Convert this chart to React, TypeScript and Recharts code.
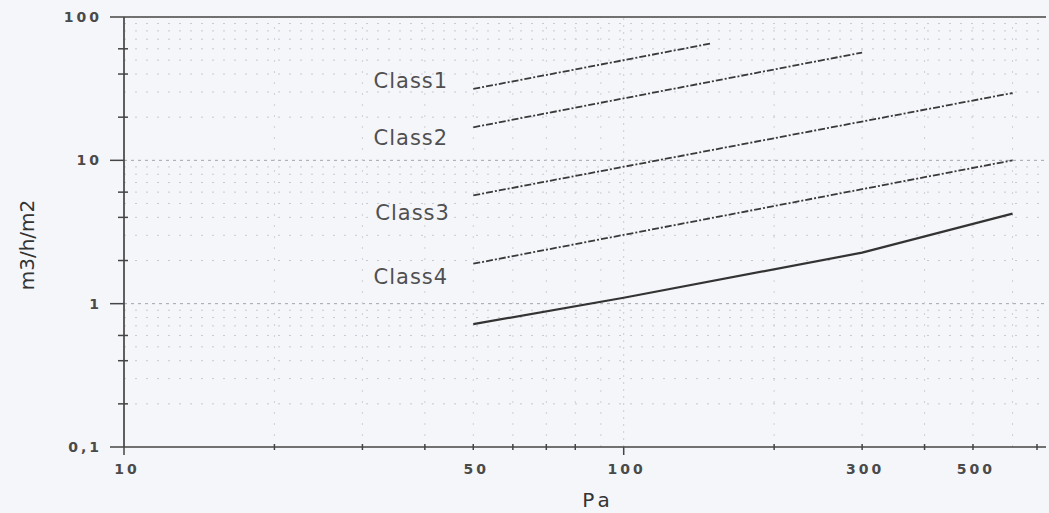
import React from "react"
import { Label, Line, LineChart, ReferenceDot, ReferenceLine, XAxis, YAxis } from "recharts"

// air permeability classes (m3/h/m2 against Pa)
const class1Pa = [50, 150]
const class1Flow = [31.5, 65.5]
const class2Pa = [50, 300]
const class2Flow = [17, 56.5]
const class3Pa = [50, 600]
const class3Flow = [5.7, 29.5]
const class4Pa = [50, 600]
const class4Flow = [1.9, 10]
const measuredPa = [50, 100, 300, 600]
const measuredFlow = [0.72, 1.1, 2.27, 4.25]

const classNames = ["Class1", "Class2", "Class3", "Class4"]
const classLabelPa = [37.5, 37.5, 37.8, 37.5]
const classLabelFlow = [36, 14.5, 4.3, 1.55]

const xTicks = [10, 20, 30, 40, 50, 60, 70, 80, 90, 100, 200, 300, 400, 500, 600, 700]
const xLabels = [10, 50, 100, 300, 500]
const xMajor = [10, 100]
const yTicks = [
  0.1, 0.2, 0.3, 0.4, 0.5, 0.6, 0.7, 0.8, 0.9,
  1, 2, 3, 4, 5, 6, 7, 8, 9,
  10, 20, 30, 40, 50, 60, 70, 80, 90, 100,
]
const yMajor = [0.1, 1, 10, 100]
const yLabelText: Record<string, string> = { "0.1": "0,1", "1": "1", "10": "10", "100": "100" }

const toRows = (pa: number[], flow: number[]) => pa.map((p, i) => ({ pa: p, flow: flow[i] }))

const font = "'DejaVu Sans', sans-serif"
const axisColor = "#454545"

function YTick(props: any) {
  const { x, y, payload } = props
  const v = payload.value
  const major = yMajor.includes(v)
  return (
    <g>
      <line
        x1={major ? x - 14 : x - 6}
        x2={major ? x : x + 4}
        y1={y}
        y2={y}
        stroke={axisColor}
        strokeWidth={1.5}
      />
      {major && (
        <text
          x={x - 22}
          y={y}
          dy={5}
          textAnchor="end"
          fontFamily={font}
          fontSize={14}
          fontWeight="bold"
          letterSpacing={3}
          fill="#4a4a4a"
        >
          {yLabelText[String(v)]}
        </text>
      )}
    </g>
  )
}

function XTick(props: any) {
  const { x, y, payload } = props
  const v = payload.value
  const major = xMajor.includes(v)
  return (
    <g>
      <line
        x1={x}
        x2={x}
        y1={major ? y : y - 3}
        y2={major ? y + 8 : y + 3}
        stroke={axisColor}
        strokeWidth={1.5}
      />
      {xLabels.includes(v) && (
        <text
          x={x + 3}
          y={y + 27}
          textAnchor="middle"
          fontFamily={font}
          fontSize={14}
          fontWeight="bold"
          letterSpacing={3}
          fill="#4a4a4a"
        >
          {v}
        </text>
      )}
    </g>
  )
}

export default function App() {
  const dashed = "7 2 2 2"
  return (
    <div style={{ position: "absolute", left: 0, top: 0, width: 1049, height: 513, background: "#f5f6fa" }}>
      <LineChart width={1049} height={513} margin={{ top: 17, right: 3, bottom: 26, left: 0 }}>
        <XAxis
          dataKey="pa"
          type="number"
          scale="log"
          domain={[10, 700]}
          allowDataOverflow
          ticks={xTicks}
          tick={<XTick />}
          tickLine={false}
          tickSize={0}
          tickMargin={0}
          height={40}
          axisLine={{ stroke: axisColor, strokeWidth: 1.7 }}
        >
          <Label
            content={(p: any) => (
              <text
                x={p.viewBox.x + 474}
                y={507}
                textAnchor="middle"
                fontFamily={font}
                fontSize={20}
                letterSpacing={4}
                fill="#333"
              >
                Pa
              </text>
            )}
          />
        </XAxis>
        <YAxis
          type="number"
          scale="log"
          domain={[0.1, 100]}
          allowDataOverflow
          ticks={yTicks}
          tick={<YTick />}
          tickLine={false}
          tickSize={0}
          tickMargin={0}
          width={124}
          axisLine={{ stroke: axisColor, strokeWidth: 1.7 }}
        >
          <Label
            content={() => (
              <text
                x={34}
                y={245}
                transform="rotate(-90 34 245)"
                textAnchor="middle"
                fontFamily={font}
                fontSize={20}
                fill="#333"
              >
                m3/h/m2
              </text>
            )}
          />
        </YAxis>

        {yTicks
          .filter((v) => !yMajor.includes(v))
          .map((v) => (
            <ReferenceLine key={"ym" + v} y={v} stroke="#c6c9d3" strokeDasharray="2 9" />
          ))}
        {[1, 10].map((v) => (
          <ReferenceLine key={"yM" + v} y={v} stroke="#a0a4ae" strokeDasharray="3 4" />
        ))}
        {xTicks
          .filter((v) => v !== 10 && v !== 100 && v !== 700)
          .map((v) => (
            <ReferenceLine key={"xm" + v} x={v} stroke="#cdd0d9" strokeDasharray="2 9" />
          ))}
        <ReferenceLine x={100} stroke="#d6c6d0" strokeDasharray="2 5" />
        <ReferenceLine y={100} stroke={axisColor} strokeWidth={1.7} />

        <Line data={toRows(class1Pa, class1Flow)} dataKey="flow" type="linear" stroke="#3a3a3a" strokeWidth={1.8} strokeDasharray={dashed} dot={false} isAnimationActive={false} />
        <Line data={toRows(class2Pa, class2Flow)} dataKey="flow" type="linear" stroke="#3a3a3a" strokeWidth={1.8} strokeDasharray={dashed} dot={false} isAnimationActive={false} />
        <Line data={toRows(class3Pa, class3Flow)} dataKey="flow" type="linear" stroke="#3a3a3a" strokeWidth={1.8} strokeDasharray={dashed} dot={false} isAnimationActive={false} />
        <Line data={toRows(class4Pa, class4Flow)} dataKey="flow" type="linear" stroke="#3a3a3a" strokeWidth={1.8} strokeDasharray={dashed} dot={false} isAnimationActive={false} />
        <Line data={toRows(measuredPa, measuredFlow)} dataKey="flow" type="linear" stroke="#333" strokeWidth={2.2} dot={false} isAnimationActive={false} />

        {classNames.map((name, i) => (
          <ReferenceDot
            key={name}
            x={classLabelPa[i]}
            y={classLabelFlow[i]}
            r={0}
            stroke="none"
            fill="none"
            label={{
              value: name,
              position: "center",
              fontFamily: font,
              fontSize: 21,
              letterSpacing: 1,
              fill: "#505050",
            }}
          />
        ))}
      </LineChart>
    </div>
  )
}
